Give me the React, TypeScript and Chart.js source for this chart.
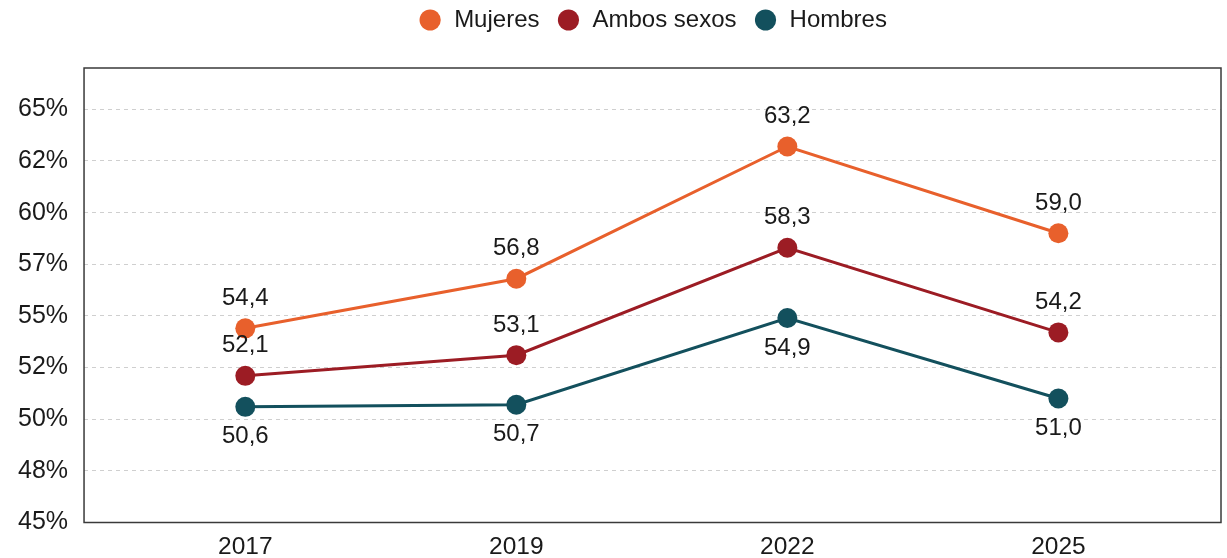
import React, { useEffect, useRef } from "react";
import { Chart, registerables } from "chart.js";

Chart.register(...registerables);

const years = ["2017", "2019", "2022", "2025"];
const mujeres = [54.4, 56.8, 63.2, 59.0];
const ambos = [52.1, 53.1, 58.3, 54.2];
const hombres = [50.6, 50.7, 54.9, 51.0];
const yTickValues = [45, 47.5, 50, 52.5, 55, 57.5, 60, 62.5, 65];
const yTickLabels = ["45%", "48%", "50%", "52%", "55%", "57%", "60%", "62%", "65%"];

const FONT = "'Liberation Sans', Arial, Helvetica, sans-serif";

const fmt = (v: number) => v.toFixed(1).replace(".", ",");

const legendSpacer = {
  id: "legendSpacer",
  beforeInit(chart: any) {
    const orig = chart.legend.fit;
    chart.legend.fit = function () {
      orig.bind(chart.legend)();
      this.height += 26;
    };
  },
  afterLayout(chart: any) {
    // centre the legend over the plot area, as in the reference
    const lg = chart.legend;
    const ca = chart.chartArea;
    const shift = (ca.left + ca.right) / 2 - (lg.left + lg.right) / 2;
    lg.left += shift;
    lg.right += shift;
  },
};

const frame = {
  id: "frame",
  afterDraw(chart: any) {
    const { ctx, chartArea } = chart;
    ctx.save();
    ctx.strokeStyle = "#3a3a3a";
    ctx.lineWidth = 1.5;
    ctx.strokeRect(chartArea.left, chartArea.top, chartArea.right - chartArea.left, chartArea.bottom - chartArea.top);
    ctx.restore();
  },
};

const valueLabels = {
  id: "valueLabels",
  afterDatasetsDraw(chart: any) {
    const { ctx } = chart;
    ctx.save();
    ctx.font = `24px ${FONT}`;
    ctx.fillStyle = "#1a1a1a";
    ctx.textAlign = "center";
    ctx.textBaseline = "middle";
    chart.data.datasets.forEach((ds: any, di: number) => {
      const meta = chart.getDatasetMeta(di);
      const below = ds.labelPos === "below";
      meta.data.forEach((pt: any, i: number) => {
        const v = ds.data[i].y;
        ctx.fillText(fmt(v), pt.x, pt.y + (below ? 30 : -30));
      });
    });
    ctx.restore();
  },
};

const W = 1231;
const H = 558;

export default function App() {
  const ref = useRef<HTMLCanvasElement | null>(null);

  useEffect(() => {
    document.body.style.margin = "0";
    document.body.style.overflow = "hidden";
    document.documentElement.style.overflow = "hidden";
    if (!ref.current) return;
    const toPts = (arr: number[]) => arr.map((v, i) => ({ x: i, y: v }));
    const chart = new Chart(ref.current, {
      type: "line",
      data: {
        datasets: [
          {
            label: "Mujeres",
            data: toPts(mujeres),
            borderColor: "#E8602C",
            backgroundColor: "#E8602C",
            labelPos: "above",
          } as any,
          {
            label: "Ambos sexos",
            data: toPts(ambos),
            borderColor: "#9C1C24",
            backgroundColor: "#9C1C24",
            labelPos: "above",
          } as any,
          {
            label: "Hombres",
            data: toPts(hombres),
            borderColor: "#13505D",
            backgroundColor: "#13505D",
            labelPos: "below",
          } as any,
        ],
      },
      options: {
        animation: false,
        responsive: false,
        maintainAspectRatio: false,
        elements: {
          line: { borderWidth: 3, tension: 0 },
          point: { radius: 10, borderWidth: 0, hoverRadius: 10 },
        },
        layout: { padding: { left: 2, right: 2, top: -9, bottom: -13 } },
        plugins: {
          tooltip: { enabled: false },
          legend: {
            position: "top",
            labels: {
              usePointStyle: true,
              pointStyle: "circle",
              boxWidth: 24,
              boxHeight: 15,
              padding: 17,
              color: "#1a1a1a",
              font: { family: FONT, size: 24 },
            },
          },
        },
        scales: {
          x: {
            type: "linear",
            min: -0.595,
            max: 3.6,
            afterBuildTicks: (axis: any) => {
              axis.ticks = years.map((_, i) => ({ value: i }));
            },
            grid: { display: false, drawTicks: false },
            border: { display: false },
            ticks: {
              padding: 12,
              color: "#1a1a1a",
              font: { family: FONT, size: 24.5, lineHeight: 1 },
              callback: (v: any) => years[v] ?? "",
            },
          },
          y: {
            min: 45,
            max: 67,
            afterBuildTicks: (axis: any) => {
              axis.ticks = yTickValues.map((v) => ({ value: v }));
            },
            grid: {
              color: "#cfcfcf",
              lineWidth: 1,
              drawTicks: false,
            },
            border: { display: false, dash: [4, 4] },
            ticks: {
              padding: 16,
              color: "#1a1a1a",
              font: { family: FONT, size: 25 },
              callback: (v: any) => {
                const idx = yTickValues.indexOf(Number(v));
                return idx >= 0 ? yTickLabels[idx] : "";
              },
            },
          },
        },
      } as any,
      plugins: [legendSpacer, valueLabels, frame],
    });
    return () => chart.destroy();
  }, []);

  return (
    <div style={{ width: 1227, height: H, overflow: "hidden" }}>
      <canvas ref={ref} width={W} height={H} style={{ display: "block" }} />
    </div>
  );
}
